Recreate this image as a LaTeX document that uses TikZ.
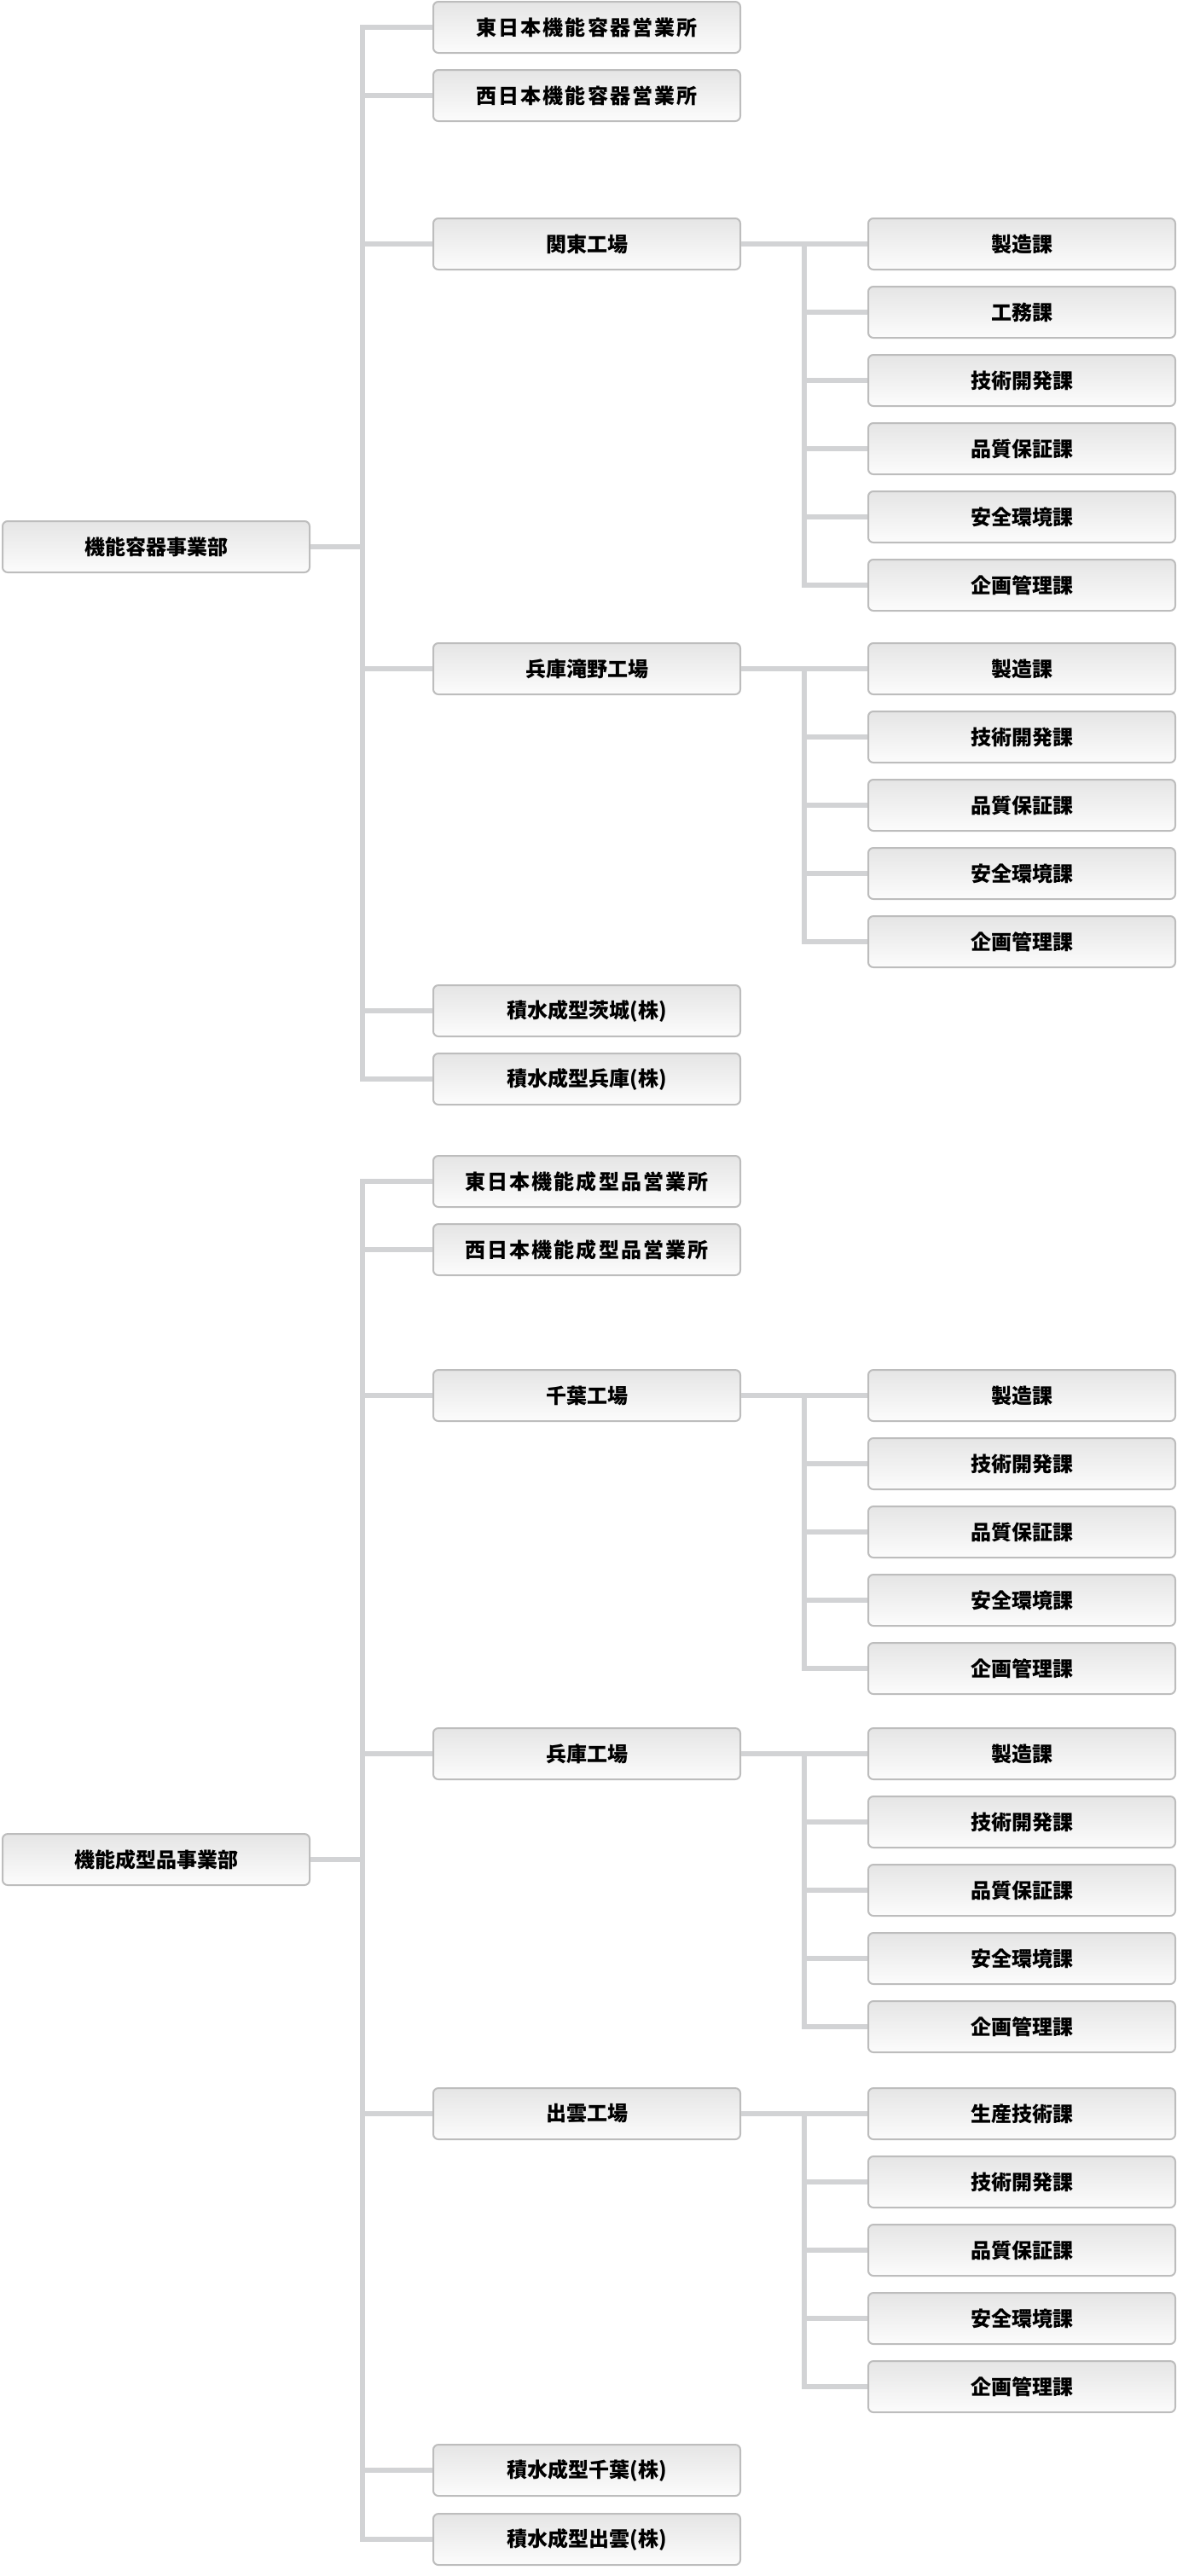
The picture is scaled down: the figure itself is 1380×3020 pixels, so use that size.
\documentclass[tikz,border=0pt]{standalone}
\usepackage{fontspec}
\setmainfont{Noto Sans CJK JP}
\usepackage{tikz}

\definecolor{linegray}{HTML}{D2D3D5}
\definecolor{boxedge}{HTML}{BDBDBD}
\definecolor{boxtop}{HTML}{E5E5E5}
\definecolor{boxbottom}{HTML}{FCFCFC}

\begin{document}
\begin{tikzpicture}[
		x=1pt, y=-1pt,
		every node/.style={rectangle, rounded corners=6pt, draw=boxedge, line width=2pt,
			top color=boxtop, bottom color=boxbottom, minimum width=360pt, minimum height=60pt,
			inner sep=0pt, font=\fontsize{24}{28}\selectfont\bfseries},
		office/.append style={font=\fontsize{24}{28}\selectfont\bfseries\addfontfeature{LetterSpace=9}},
		link/.style={draw=linegray, line width=6pt}
	]
  \useasboundingbox (0,0) rectangle (1380,3020);

  \node (hq_1) at (183, 641) {機能容器事業部};
  \node (east_1) [office] at (688, 32) {東日本機能容器営業所};
  \node (west_1) [office] at (688, 112) {西日本機能容器営業所};
  \node (kanto) at (688, 286) {関東工場};
  \node (kanto_1) at (1198, 286) {製造課};
  \node (kanto_2) at (1198, 366) {工務課};
  \node (kanto_3) at (1198, 446) {技術開発課};
  \node (kanto_4) at (1198, 526) {品質保証課};
  \node (kanto_5) at (1198, 606) {安全環境課};
  \node (kanto_6) at (1198, 686) {企画管理課};
  \node (takino) at (688, 784) {兵庫滝野工場};
  \node (takino_1) at (1198, 784) {製造課};
  \node (takino_2) at (1198, 864) {技術開発課};
  \node (takino_3) at (1198, 944) {品質保証課};
  \node (takino_4) at (1198, 1024) {安全環境課};
  \node (takino_5) at (1198, 1104) {企画管理課};
  \node (ibaraki_kk) at (688, 1185) {積水成型茨城(株)};
  \node (hyogo_kk) at (688, 1265) {積水成型兵庫(株)};

  \node (hq_2) at (183, 2180) {機能成型品事業部};
  \node (east_2) [office] at (688, 1385) {東日本機能成型品営業所};
  \node (west_2) [office] at (688, 1465) {西日本機能成型品営業所};
  \node (chiba) at (688, 1636) {千葉工場};
  \node (chiba_1) at (1198, 1636) {製造課};
  \node (chiba_2) at (1198, 1716) {技術開発課};
  \node (chiba_3) at (1198, 1796) {品質保証課};
  \node (chiba_4) at (1198, 1876) {安全環境課};
  \node (chiba_5) at (1198, 1956) {企画管理課};
  \node (hyogo) at (688, 2056) {兵庫工場};
  \node (hyogo_1) at (1198, 2056) {製造課};
  \node (hyogo_2) at (1198, 2136) {技術開発課};
  \node (hyogo_3) at (1198, 2216) {品質保証課};
  \node (hyogo_4) at (1198, 2296) {安全環境課};
  \node (hyogo_5) at (1198, 2376) {企画管理課};
  \node (izumo) at (688, 2478) {出雲工場};
  \node (izumo_1) at (1198, 2478) {生産技術課};
  \node (izumo_2) at (1198, 2558) {技術開発課};
  \node (izumo_3) at (1198, 2638) {品質保証課};
  \node (izumo_4) at (1198, 2718) {安全環境課};
  \node (izumo_5) at (1198, 2798) {企画管理課};
  \node (chiba_kk) at (688, 2896) {積水成型千葉(株)};
  \node (izumo_kk) at (688, 2977) {積水成型出雲(株)};

  \coordinate (t_1) at (425, 0);
  \coordinate (t_2) at (943, 0);

  \draw[link] (hq_1.east) -- (t_1 |- hq_1.east) |- (east_1.west)
    (t_1 |- hq_1.east) |- (west_1.west)
    (t_1 |- hq_1.east) |- (kanto.west)
    (t_1 |- hq_1.east) |- (takino.west)
    (t_1 |- hq_1.east) |- (ibaraki_kk.west)
    (t_1 |- hq_1.east) |- (hyogo_kk.west);
  \draw[link] (kanto.east) -- (kanto_1.west)
    (t_2 |- kanto.east) |- (kanto_2.west)
    (t_2 |- kanto.east) |- (kanto_3.west)
    (t_2 |- kanto.east) |- (kanto_4.west)
    (t_2 |- kanto.east) |- (kanto_5.west)
    (t_2 |- kanto.east) |- (kanto_6.west);
  \draw[link] (takino.east) -- (takino_1.west)
    (t_2 |- takino.east) |- (takino_2.west)
    (t_2 |- takino.east) |- (takino_3.west)
    (t_2 |- takino.east) |- (takino_4.west)
    (t_2 |- takino.east) |- (takino_5.west);

  \draw[link] (hq_2.east) -- (t_1 |- hq_2.east) |- (east_2.west)
    (t_1 |- hq_2.east) |- (west_2.west)
    (t_1 |- hq_2.east) |- (chiba.west)
    (t_1 |- hq_2.east) |- (hyogo.west)
    (t_1 |- hq_2.east) |- (izumo.west)
    (t_1 |- hq_2.east) |- (chiba_kk.west)
    (t_1 |- hq_2.east) |- (izumo_kk.west);
  \draw[link] (chiba.east) -- (chiba_1.west)
    (t_2 |- chiba.east) |- (chiba_2.west)
    (t_2 |- chiba.east) |- (chiba_3.west)
    (t_2 |- chiba.east) |- (chiba_4.west)
    (t_2 |- chiba.east) |- (chiba_5.west);
  \draw[link] (hyogo.east) -- (hyogo_1.west)
    (t_2 |- hyogo.east) |- (hyogo_2.west)
    (t_2 |- hyogo.east) |- (hyogo_3.west)
    (t_2 |- hyogo.east) |- (hyogo_4.west)
    (t_2 |- hyogo.east) |- (hyogo_5.west);
  \draw[link] (izumo.east) -- (izumo_1.west)
    (t_2 |- izumo.east) |- (izumo_2.west)
    (t_2 |- izumo.east) |- (izumo_3.west)
    (t_2 |- izumo.east) |- (izumo_4.west)
    (t_2 |- izumo.east) |- (izumo_5.west);
\end{tikzpicture}
\end{document}
